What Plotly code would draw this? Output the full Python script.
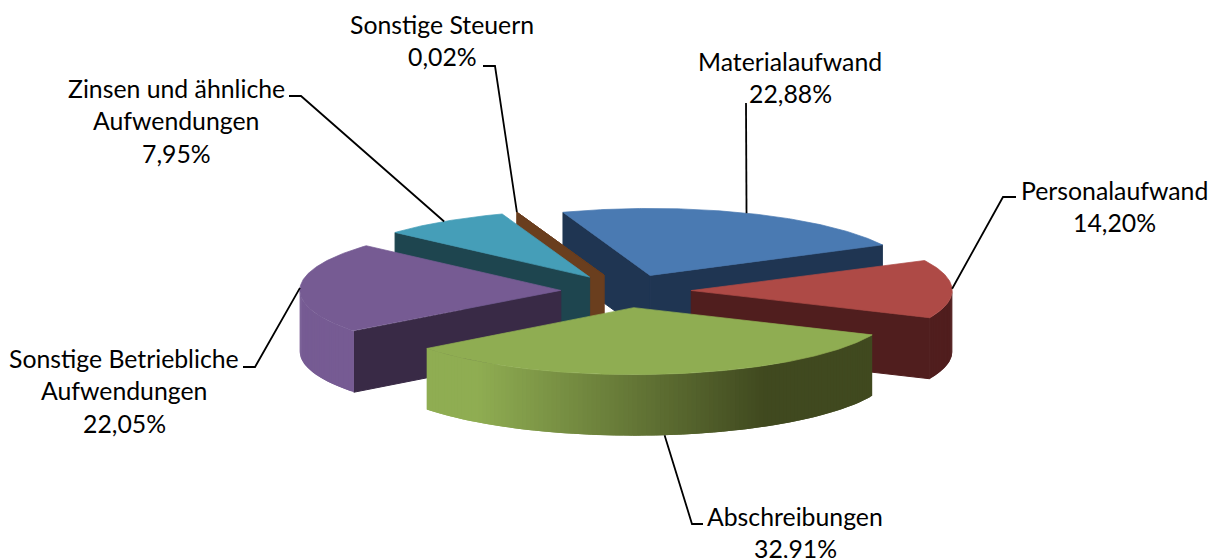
import numpy as np
import plotly.graph_objects as go

# ---- data ----
categories = ["Materialaufwand", "Personalaufwand", "Abschreibungen",
              "Sonstige Betriebliche<br>Aufwendungen", "Zinsen und ähnliche<br>Aufwendungen",
              "Sonstige Steuern"]
values = [22.88, 14.20, 32.91, 22.05, 7.95, 0.02]
top_colors = ["#4A7AB2", "#AE4A46", "#8FAD52", "#765B93", "#459EB8", "#6A3E1E"]
dark_colors = ["#1F3552", "#501E1E", "#40491F", "#392A46", "#1E454F", "#6A3E1E"]

# ---- layout constants (pixels) ----
W, H = 1218, 558
CX, CY, A, B, DEPTH = 626, 291, 261, 67, 61
EXPLODE = 0.25
START = -19.5
DRAW_ORDER = [0, 1, 5, 4, 3, 2]
LABEL_POS = [(790, 61), (1114, 190), (795, 516), (124, 358), (176, 88), (442, 24)]
LEADER_KNEES = [[(746, 103)], [(1003, 197), (1016, 197)], [(692, 524), (703, 524)],
                [(255, 367), (243, 367)], [(301, 96), (289, 96)], [(495, 66), (483, 66)]]
LINE_GAP = 32.7
FONT = dict(family="Lato, Carlito, sans-serif", size=24.8, color="#000000")


def hex2rgb(h):
    return np.array([int(h[i:i + 2], 16) for i in (1, 3, 5)], float)


def mix(c1, c2, t):
    c = hex2rgb(c1) * (1 - t) + hex2rgb(c2) * t
    return "rgb(%d,%d,%d)" % tuple(np.round(c))


def poly(fig, xs, ys, color, lw=0.7):
    fig.add_trace(go.Scatter(x=list(xs) + [xs[0]], y=list(ys) + [ys[0]], mode="lines", fill="toself",
                             fillcolor=color, line=dict(color=color, width=lw),
                             hoverinfo="skip", showlegend=False))


fig = go.Figure()
total = sum(values)
spans = [v / total * 360 for v in values]
starts = START + np.concatenate([[0], np.cumsum(spans)[:-1]])
mids = starts + np.array(spans) / 2


def apex(i):
    m = np.radians(mids[i])
    return CX + EXPLODE * A * np.sin(m), CY - EXPLODE * B * np.cos(m)


def rim(i, deg):
    ax, ay = apex(i)
    r = np.radians(deg)
    return ax + A * np.sin(r), ay - B * np.cos(r)


def front_arc(s, e):
    """Portion of [s, e] (degrees clockwise from top) on the viewer's side."""
    lo, hi = max(s, 90), min(e, 270)
    return (lo, hi) if hi > lo else None


for i in DRAW_ORDER:
    ax, ay = apex(i)
    s, e = starts[i], starts[i] + spans[i]
    # radial faces that look towards the viewer
    for d, visible in ((s, np.sin(np.radians(s)) < 0), (e, np.sin(np.radians(e)) > 0)):
        if visible:
            x, y = rim(i, d)
            poly(fig, [ax, x, x, ax], [ay, y, y + DEPTH, ay + DEPTH], dark_colors[i], lw=1)
    # outer rim, lit from the left; overlapping strips
    arc = front_arc(s, e)
    if arc:
        lo, hi = arc
        n = max(int((hi - lo)), 1)
        edges = np.linspace(lo, hi, n + 1)
        for k in range(n):
            a0 = edges[k]
            a2 = edges[min(k + 2, n)]
            amid = (edges[k] + edges[k + 1]) / 2
            sub = np.linspace(a0, a2, 4)
            pts = [rim(i, d) for d in sub]
            shade = np.sin(np.radians(amid))
            t = float(np.clip((shade + 0.6) / 1.1, 0, 1))
            xs = [p[0] for p in pts] + [p[0] for p in pts[::-1]]
            ys = [p[1] for p in pts] + [p[1] + DEPTH for p in pts[::-1]]
            poly(fig, xs, ys, mix(top_colors[i], dark_colors[i], t), lw=0)
    # top face
    arc_pts = np.linspace(s, e, max(int(spans[i] * 2), 2))
    pts = [rim(i, d) for d in arc_pts]
    poly(fig, [ax] + [p[0] for p in pts], [ay] + [p[1] for p in pts], top_colors[i])

# leader lines
for i in range(len(values)):
    x, y = rim(i, mids[i])
    if np.cos(np.radians(mids[i])) < 0 and abs(np.sin(np.radians(mids[i]))) < 0.7:
        y += DEPTH
    pts = [(x, y)] + LEADER_KNEES[i]
    fig.add_trace(go.Scatter(x=[p[0] for p in pts], y=[p[1] for p in pts], mode="lines",
                             line=dict(color="#000000", width=1.8), hoverinfo="skip", showlegend=False))

# labels
annotations = []
for i, name in enumerate(categories):
    lines = name.split("<br>") + [("%.2f%%" % values[i]).replace(".", ",")]
    lx, ly = LABEL_POS[i]
    for k, line in enumerate(lines):
        annotations.append(dict(x=lx, y=ly + k * LINE_GAP, text=line, showarrow=False, xanchor="center",
                                yanchor="middle", font=FONT, xref="x", yref="y"))

fig.update_layout(width=W, height=H, margin=dict(l=0, r=0, t=0, b=0), paper_bgcolor="white",
                  plot_bgcolor="white", annotations=annotations, showlegend=False,
                  xaxis=dict(range=[0, W], visible=False, fixedrange=True),
                  yaxis=dict(range=[H, 0], visible=False, fixedrange=True))
fig.write_html("out.html", config=dict(displayModeBar=False),
               post_script="document.body.style.margin='0';document.documentElement.style.overflow='hidden';")
